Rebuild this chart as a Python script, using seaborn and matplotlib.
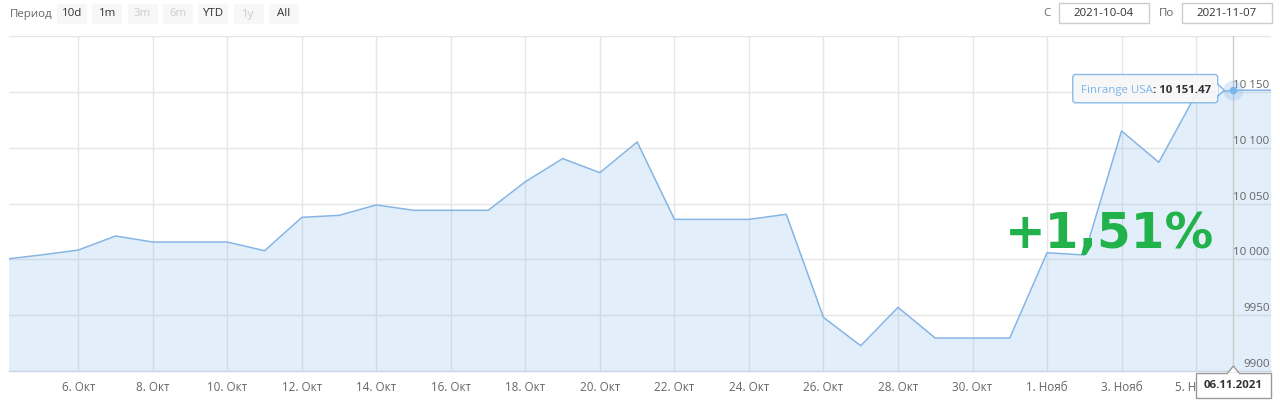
import pandas as pd
import numpy as np
import matplotlib
matplotlib.use("Agg")
import matplotlib.pyplot as plt
import matplotlib.transforms as mtransforms
from matplotlib.patches import FancyBboxPatch, Polygon, Rectangle
import seaborn as sns

# ---- data ----
dates = pd.date_range("2021-10-04", "2021-11-07", freq="D")
values = [10000.0, 10003.9, 10008.3, 10020.9, 10015.5, 10015.5, 10015.5,
          10007.7, 10037.6, 10039.4, 10048.7, 10043.9, 10043.9, 10043.9,
          10069.5, 10090.2, 10077.6, 10105.1, 10035.8, 10035.8, 10035.8,
          10040.3, 9948.0, 9922.6, 9957.0, 9929.5, 9929.5, 9929.5,
          10005.9, 10003.9, 10115.0, 10086.9, 10148.0, 10151.47, 10151.47]
series_name = "Finrange USA"
hover_date = pd.Timestamp("2021-11-06")

x_ticks = pd.date_range("2021-10-06", "2021-11-05", freq="2D")
month_ru = {10: "Окт", 11: "Нояб"}
y_ticks = [9900, 9950, 10000, 10050, 10100, 10150]
y_grid = [9900, 9950, 10000, 10050, 10100, 10150, 10200]

period_buttons = ["10d", "1m", "3m", "6m", "YTD", "1y", "All"]
disabled_buttons = ["3m", "6m", "1y"]
date_from = "2021-10-04"
date_to = "2021-11-07"

# ---- style ----
sns.set_style("white")
plt.rcParams["font.family"] = ["Open Sans", "DejaVu Sans"]
LINE = "#7cb5ec"
GRID = "#e6e6e6"
LABEL = "#666666"

W, H = 1280, 407
fig = plt.figure(figsize=(W / 100, H / 100), dpi=100)
L, R, T, B = 9.3, 1270.6, 36, 371
ax = fig.add_axes([L / W, 1 - B / H, (R - L) / W, (B - T) / H])

df = pd.DataFrame({"date": dates, "value": values})
ax.fill_between(df["date"], df["value"], 9800, color=LINE, alpha=0.22, lw=0, zorder=1)
sns.lineplot(data=df, x="date", y="value", ax=ax, color="#86b5e4", lw=1.1, zorder=3)

ax.set_xlim(dates[0] + pd.Timedelta(hours=3.55), dates[-1])
ax.set_ylim(9900, 10200)
ax.set_axisbelow(True)

ax.set_xticks(x_ticks)
ax.set_xticklabels([f"{d.day}. {month_ru[d.month]}" for d in x_ticks])
ax.set_yticks(y_grid)
ax.set_yticklabels([])
ax.grid(True, color=GRID, lw=1)
ax.tick_params(axis="x", length=8, width=1, color="#ccd6eb", pad=-1,
               labelsize=8.4, labelcolor=LABEL)
ax.tick_params(axis="y", length=0)
ax.set_xlabel("")
ax.set_ylabel("")
for s in ["top", "left", "right"]:
    ax.spines[s].set_visible(False)
ax.spines["bottom"].set_color("#ccd6eb")
ax.spines["bottom"].set_linewidth(1)

# y labels drawn inside the plot, above each gridline
ytrans = mtransforms.offset_copy(
    mtransforms.blended_transform_factory(ax.transAxes, ax.transData),
    fig=fig, x=-1, y=1, units="dots")
for v in y_ticks:
    lab = f"{v:,}".replace(",", " ") if v >= 10000 else str(v)
    ax.text(1, v, lab, transform=ytrans, ha="right", va="bottom",
            fontsize=8.25, color=LABEL, zorder=4)

# crosshair + hovered point
hi = list(dates).index(hover_date)
hv = values[hi]
ax.axvline(hover_date, color="#cccccc", lw=1, zorder=2)
ax.scatter([hover_date], [hv], s=210, color=LINE, alpha=0.25, lw=0, zorder=5)
ax.scatter([hover_date], [hv], s=30, color=LINE, lw=0, zorder=6)

# ---- overlay in pixel coords ----
deco = fig.add_axes([0, 0, 1, 1], zorder=5)
deco.set_xlim(0, W)
deco.set_ylim(H, 0)
deco.axis("off")
deco.patch.set_alpha(0)

dx, dy = ax.transData.transform((matplotlib.dates.date2num(hover_date), hv))
px, py = dx, H - dy

# tooltip
tip = FancyBboxPatch((px - 160.6, py - 15.7), 145, 28.3,
                     boxstyle="round,pad=0,rounding_size=3",
                     fc="#f7f7f7", ec=LINE, lw=1, alpha=0.9)
deco.add_patch(tip)
deco.add_patch(Polygon([[px - 15.6, py - 6], [px - 9, py], [px - 15.6, py + 6]],
                       closed=True, fc="#f7f7f7", ec=LINE, lw=1))
deco.add_patch(Rectangle((px - 17, py - 5), 2, 10, fc="#f7f7f7", lw=0))
fig.canvas.draw()
r = fig.canvas.get_renderer()
t1 = deco.text(px - 152, py, series_name, ha="left", va="center",
               fontsize=8.25, color=LINE)
bb = t1.get_window_extent(renderer=r)
val_txt = f"{hv:,.2f}".replace(",", " ")
deco.text(bb.x1, py, f": {val_txt}", ha="left", va="center",
          fontsize=8.25, color="#333333", fontweight="bold")

# date flag under the axis (covers part of the last tick label)
deco.add_patch(Rectangle((px - 37, 373), 75, 25, fc="white", ec="#999999", lw=1))
deco.add_patch(Polygon([[px - 6, 373.5], [px, 366], [px + 6, 373.5]],
                       closed=True, fc="white", ec="#999999", lw=1))
deco.add_patch(Rectangle((px - 5.5, 372.5), 11, 2, fc="white", lw=0))
deco.text(px, 385.5, hover_date.strftime("%d.%m.%Y"), ha="center", va="center",
          fontsize=8.25, color="#333333", fontweight="bold")

# change label
pct = (values[-1] / values[0] - 1) * 100
pct_txt = f"+{pct:.2f}%".replace(".", ",")
deco.text(1109, 248.3, pct_txt, ha="center", va="baseline", fontsize=35,
          fontweight="bold", color="#22b24c", family="DejaVu Sans")

# range selector
deco.text(10, 14, "Период", ha="left", va="center", fontsize=8.25, color=LABEL)
for i, b in enumerate(period_buttons):
    x0 = 57 + i * 35.3
    deco.add_patch(Rectangle((x0, 4), 30, 20, fc="#f7f7f7", lw=0))
    deco.text(x0 + 15, 14, b, ha="center", va="center", fontsize=8.25,
              color="#cccccc" if b in disabled_buttons else "#333333")

deco.text(1046.7, 13.5, "С", ha="center", va="center", fontsize=8.25, color=LABEL)
deco.add_patch(Rectangle((1059, 3), 90, 20, fc="white", ec="#cccccc", lw=1))
deco.text(1104, 13.5, date_from, ha="center", va="center", fontsize=8.25, color="#333333")
deco.text(1167, 13.5, "По", ha="center", va="center", fontsize=8.25, color=LABEL)
deco.add_patch(Rectangle((1182, 3), 90, 20, fc="white", ec="#cccccc", lw=1))
deco.text(1227, 13.5, date_to, ha="center", va="center", fontsize=8.25, color="#333333")

fig.savefig("out.png", dpi=100)
